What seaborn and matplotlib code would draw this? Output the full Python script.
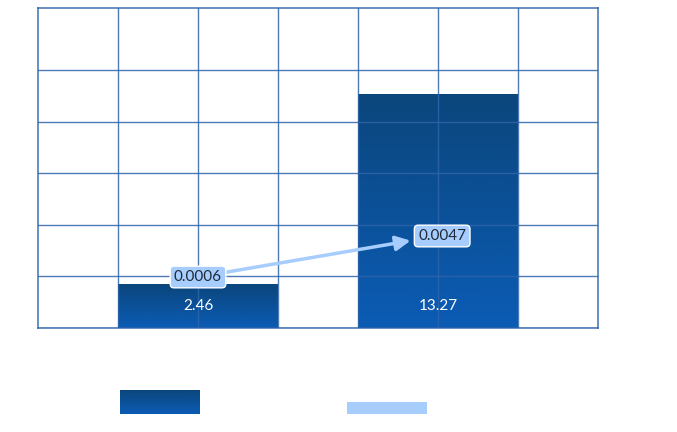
import matplotlib
matplotlib.use("Agg")
import matplotlib.pyplot as plt
import numpy as np
import pandas as pd
import seaborn as sns
from matplotlib.colors import LinearSegmentedColormap
from matplotlib.image import BboxImage
from matplotlib.legend_handler import HandlerBase, HandlerPatch
from matplotlib.patches import Rectangle
from matplotlib.transforms import Bbox, TransformedBbox

# data
categories = ["Group 1", "Group 2"]
bar_values = [2.46, 13.27]
line_values = [0.0006, 0.0047]
legend_labels = ["", ""]

BAR_TOP = "#0b467c"
BAR_BOTTOM = "#0b5cb5"
LINE_COLOR = "#a6cdfd"
GRID_COLOR = "#2f64aa"
bar_cmap = LinearSegmentedColormap.from_list("bar_grad", [BAR_BOTTOM, BAR_TOP])
gradient = np.linspace(0, 1, 256).reshape(-1, 1)


class GradientHandler(HandlerBase):
    """Legend handle drawn as a vertical gradient box."""
    def create_artists(self, legend, orig_handle, xdescent, ydescent,
                       width, height, fontsize, trans):
        bb = TransformedBbox(Bbox.from_bounds(-xdescent, -ydescent, width, height), trans)
        img = BboxImage(bb, cmap=bar_cmap, origin="lower", interpolation="bilinear")
        img.set_data(gradient)
        return [img]


def half_patch(legend, orig_handle, xdescent, ydescent, width, height, fontsize):
    return Rectangle((-xdescent, -ydescent), width, height / 2)


sns.set_theme(style="white")
plt.rcParams["font.family"] = ["Lato", "DejaVu Sans"]

df = pd.DataFrame({"category": categories, "value": bar_values})

fig = plt.figure(figsize=(6.77, 4.32), dpi=100)
ax = fig.add_axes([38 / 677, 104 / 432, 560 / 677, 320 / 432])

sns.barplot(data=df, x="category", y="value", width=2 / 3, color=BAR_BOTTOM, ax=ax)

# gradient fill for each bar
for patch in list(ax.patches):
    x0, y0 = patch.get_x(), patch.get_y()
    x1, y1 = x0 + patch.get_width(), y0 + patch.get_height()
    ax.imshow(gradient, extent=[x0, x1, y0, y1], aspect="auto", cmap=bar_cmap,
              origin="lower", zorder=1, interpolation="bilinear")
    patch.set_facecolor("none")
    patch.set_edgecolor("none")

for i, v in enumerate(bar_values):
    ax.annotate(f"{v:.2f}", xy=(i, 0), xytext=(0, 16), textcoords="offset points",
                ha="center", va="center", color="white", fontsize=11, zorder=5)

ax.set_xlim(-2 / 3, 5 / 3)
ax.set_ylim(0, 18.2)
ax.set_xticks(np.arange(-1, 5) / 3)
ax.set_yticks(np.arange(6) * 2.935)
ax.set_xticklabels([])
ax.set_yticklabels([])
ax.tick_params(length=0)
ax.set_xlabel("")
ax.set_ylabel("")
ax.set_axisbelow(False)
ax.grid(True, color=GRID_COLOR, linewidth=1, alpha=0.85)
for s in ax.spines.values():
    s.set_color(GRID_COLOR)
    s.set_linewidth(1.2)
    s.set_alpha(0.85)

# secondary axis for the small series
ax2 = ax.twinx()
ax2.set_ylim(-0.0045, 0.0275)
ax2.set_yticks([])
for s in ax2.spines.values():
    s.set_visible(False)

box = dict(boxstyle="round,pad=0.25", facecolor=LINE_COLOR, edgecolor="white", linewidth=1)
ax2.annotate(f"{line_values[0]:.4f}", xy=(1, line_values[1]), xytext=(0, line_values[0]),
             ha="center", va="center", fontsize=11, color="#1f2a36", bbox=box, zorder=6,
             arrowprops=dict(arrowstyle="-|>,head_length=0.8,head_width=0.4", color=LINE_COLOR,
                             lw=2.5, shrinkA=0, shrinkB=20))
ax2.annotate(f"{line_values[1]:.4f}", xy=(1, line_values[1]), xytext=(3, 0),
             textcoords="offset points", ha="center", va="center",
             fontsize=11, color="#1f2a36", bbox=box, zorder=6)

bar_handle = Rectangle((0, 0), 1, 1)
line_handle = Rectangle((0, 0), 1, 1, facecolor=LINE_COLOR, edgecolor="none")
fs = 10 * 100 / 72
fig.legend([bar_handle, line_handle], legend_labels, ncol=2, frameon=False,
           loc="upper left", bbox_to_anchor=(120 / 677, 1 - 390 / 432),
           borderpad=0, borderaxespad=0, fontsize=10,
           handlelength=80 / fs, handleheight=(24 / fs - 0.245) / 0.65, handletextpad=0.8,
           columnspacing=(147 - 0.8 * fs) / fs,
           handler_map={bar_handle: GradientHandler(),
                        line_handle: HandlerPatch(patch_func=half_patch)})

fig.savefig("out.png", dpi=100)
